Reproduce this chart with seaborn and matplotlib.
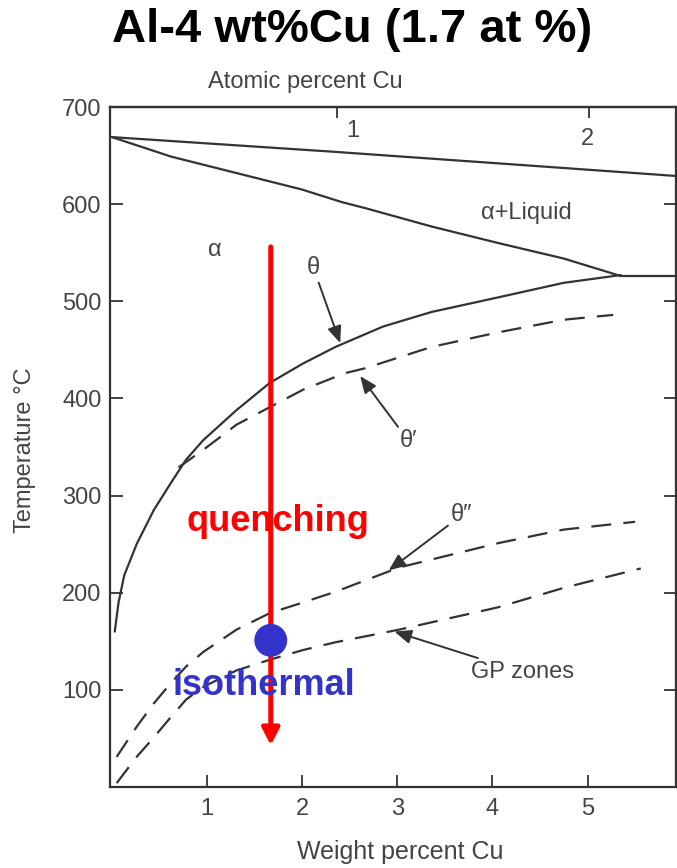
import matplotlib
matplotlib.use("Agg")
import matplotlib.pyplot as plt
import seaborn as sns
import pandas as pd

sns.set_theme(style="white")
plt.rcParams['font.family'] = ['Liberation Sans', 'DejaVu Sans']

# ---- data (wt% Cu, temperature in C) ----
liq_w = [0.0, 2.32, 4.06, 5.93]
liq_t = [669, 654, 642, 629]
sol_w = [0.0, 0.62, 1.31, 2.0, 2.42, 2.66, 3.36, 4.06, 4.75, 5.35]
sol_t = [669, 649, 632, 615, 602, 596, 577, 560, 544, 526]
eut_w = [5.35, 5.93]
eut_t = [526, 526]
theta_w = [0.03, 0.07, 0.13, 0.26, 0.44, 0.62, 0.78, 0.96, 1.31, 1.66, 2.01, 2.35,
           2.85, 3.36, 4.06, 4.75, 5.35]
theta_t = [160, 190, 218, 250, 285, 313, 337, 357, 388, 416, 436, 453,
           474, 489, 504, 519, 527]
thetap_w = [0.70, 0.96, 1.31, 1.66, 2.01, 2.45, 2.66, 3.36, 4.06, 4.75, 5.27]
thetap_t = [329, 347, 373, 391, 409, 426, 431, 453, 468, 481, 486]
thetapp_w = [0.05, 0.26, 0.44, 0.62, 0.78, 0.96, 1.31, 1.66, 2.01, 2.35, 3.02, 4.06, 4.75, 5.50]
thetapp_t = [31, 62, 86, 107, 124, 139, 162, 179, 190, 201, 226, 251, 265, 273]
gp_w = [0.05, 0.26, 0.44, 0.62, 0.78, 0.96, 1.31, 1.66, 2.01, 2.35, 3.02, 4.06, 4.75, 5.56]
gp_t = [4, 31, 51, 72, 90, 103, 120, 131, 141, 149, 162, 185, 205, 225]

alloy_w = 1.67
quench_start, quench_end = 556, 43
iso_t = 151

wt_ticks = [1, 2, 3, 4, 5]
t_ticks = [100, 200, 300, 400, 500, 600, 700]
at_ticks_wt = [2.37, 5.02]
at_labels = ['1', '2']

gray = '#333333'
txtc = '#444444'

fig = plt.figure(figsize=(6.77, 8.68), dpi=100)
W, H = 677, 868
ax = fig.add_axes([110 / W, 1 - 787 / H, (676 - 110) / W, (787 - 107) / H])

solid = pd.concat([
    pd.DataFrame({'w': liq_w, 't': liq_t, 'c': 'liq'}),
    pd.DataFrame({'w': sol_w, 't': sol_t, 'c': 'sol'}),
    pd.DataFrame({'w': eut_w, 't': eut_t, 'c': 'eut'}),
    pd.DataFrame({'w': theta_w, 't': theta_t, 'c': 'theta'}),
])
dashed = pd.concat([
    pd.DataFrame({'w': thetap_w, 't': thetap_t, 'c': 'tp'}),
    pd.DataFrame({'w': thetapp_w, 't': thetapp_t, 'c': 'tpp'}),
    pd.DataFrame({'w': gp_w, 't': gp_t, 'c': 'gp'}),
])
for name, g in solid.groupby('c'):
    sns.lineplot(data=g, x='w', y='t', ax=ax, color=gray, lw=1.6, sort=False, estimator=None)
for name, g in dashed.groupby('c'):
    sns.lineplot(data=g, x='w', y='t', ax=ax, color=gray, lw=1.6, sort=False,
                 estimator=None, dashes=False, linestyle=(0, (9, 5.5)))

ax.set_xlim(-0.02, 5.93)
ax.set_ylim(0, 700)
ax.set_xlabel('')
ax.set_ylabel('')
ax.set_xticks(wt_ticks)
ax.set_yticks(t_ticks)
ax.tick_params(axis='both', direction='in', length=9, width=1.3, colors=gray,
               labelcolor=txtc, labelsize=17, right=True, bottom=True, left=True)
ax.tick_params(axis='x', pad=8)
ax.tick_params(axis='y', pad=6)
for s in ax.spines.values():
    s.set_color(gray)
    s.set_linewidth(1.6)

sec = ax.secondary_xaxis('top')
sec.set_xticks(at_ticks_wt)
sec.set_xticklabels(['', ''])
sec.tick_params(direction='in', length=8, width=1.3, colors=gray)
sec.spines['top'].set_color(gray)
sec.spines['top'].set_linewidth(1.6)
for xw, lab, dx, ty in zip(at_ticks_wt, at_labels, [0.16, -0.02], [675, 667]):
    ax.text(xw + dx, ty, lab, ha='center', va='center', fontsize=17, color=txtc)

# region / phase labels
ax.text(1.08, 553, 'α', fontsize=17, color=txtc, ha='center', va='center')
ax.text(4.36, 591, 'α+Liquid', fontsize=17, color=txtc, ha='center', va='center')
arrow_kw = dict(arrowstyle='-|>,head_width=0.25,head_length=0.6', color=gray, lw=1.4,
                shrinkA=0, shrinkB=0)
ax.annotate('θ', xy=(2.40, 457), xytext=(2.12, 534), fontsize=17, color=txtc,
            ha='center', va='center', arrowprops=arrow_kw)
ax.annotate('θ′', xy=(2.61, 423), xytext=(3.12, 356), fontsize=17, color=txtc,
            ha='center', va='center', arrowprops=arrow_kw)
ax.annotate('θ″', xy=(2.91, 223), xytext=(3.68, 280), fontsize=17, color=txtc,
            ha='center', va='center', arrowprops=arrow_kw)
ax.annotate('GP zones', xy=(2.97, 160), xytext=(4.32, 118), fontsize=17, color=txtc,
            ha='center', va='center', arrowprops=arrow_kw)

# quench arrow, isothermal point
ax.annotate('', xy=(alloy_w, quench_end), xytext=(alloy_w, quench_start),
            arrowprops=dict(arrowstyle='-|>,head_width=0.26,head_length=0.5', color='red',
                            lw=3.6, shrinkA=0, shrinkB=0, mutation_scale=20))
sns.scatterplot(x=[alloy_w], y=[iso_t], ax=ax, s=560, color='#3333CC', edgecolor='none', zorder=5)
ax.text(1.75, 273, 'quenching', fontsize=26, fontweight='bold', color='red',
        ha='center', va='center', zorder=6)
ax.text(1.60, 104, 'isothermal', fontsize=26, fontweight='bold', color='#3333CC',
        ha='center', va='center', zorder=6)

# axis titles
fig.text(305 / W, 1 - 82 / H, 'Atomic percent Cu', fontsize=17, color=txtc, ha='center', va='center')
fig.text(400 / W, 1 - 852 / H, 'Weight percent Cu', fontsize=18, color=txtc, ha='center', va='center')
fig.text(25 / W, 1 - 450 / H, 'Temperature °C', fontsize=17, color=txtc, ha='center', va='center',
         rotation=90)
fig.text(352 / W, 1 - 30 / H, 'Al-4 wt%Cu (1.7 at %)', fontsize=34, fontweight='bold',
         color='black', ha='center', va='center')

fig.savefig('out.png', dpi=100)
